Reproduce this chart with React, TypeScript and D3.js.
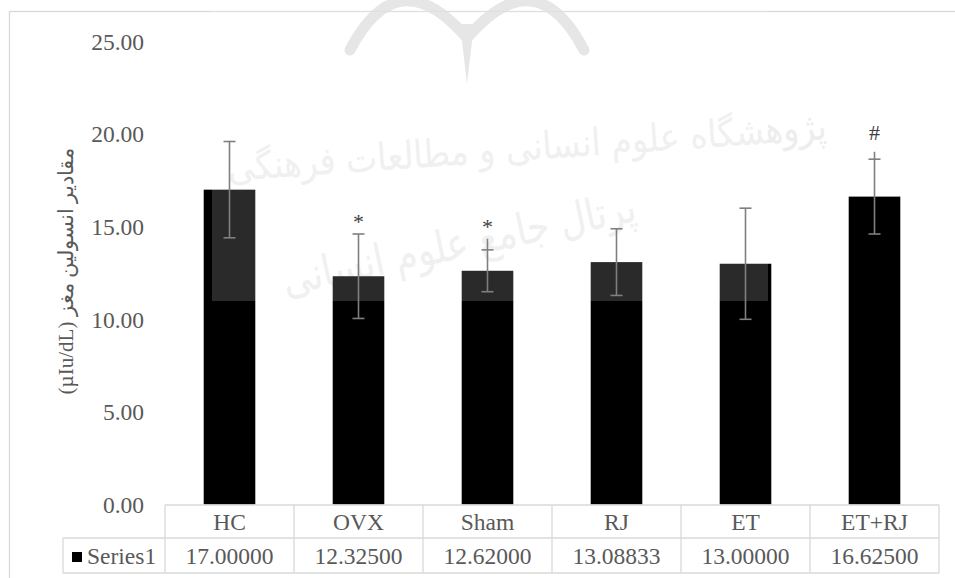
import React from "react";
import * as d3 from "d3";

const categories = ["HC", "OVX", "Sham", "RJ", "ET", "ET+RJ"];
const values = [17.0, 12.325, 12.62, 13.08833, 13.0, 16.625];
const valueLabels = ["17.00000", "12.32500", "12.62000", "13.08833", "13.00000", "16.62500"];
const errors = [2.6, 2.28, 1.13, 1.8, 3.0, 2.02];
const errStemExtra = [0, 0, 0.6, 0, 0, 0.4];
const marks = ["", "*", "*", "", "", "#"];
const yTicks = [0, 5, 10, 15, 20, 25];
const seriesName = "Series1";
const yTitle = "(µIu/dL) مقادیر انسولین مغز";
const watermark1 = "پژوهشگاه علوم انسانی و مطالعات فرهنگی";
const watermark2 = "پرتال جامع علوم انسانی";

const W = 955;
const H = 578;
const FONT = "'Liberation Serif', 'Times New Roman', serif";
const TEXT = "#595959";
const GRID = "#d9d9d9";
const WM = "#ededed";

export default function App() {
  const x = d3.scaleBand<string>().domain(categories).range([165, 939]).padding(0);
  const y = d3.scaleLinear().domain([0, 25]).range([504.5, 41.5]);
  const bw = x.bandwidth() * 0.4;
  const cx = (c: string) => (x(c) as number) + x.bandwidth() / 2;
  const tableTop = y(0) + 0.5;
  const rowMid = 538;
  const tableBottom = 573;
  const legendLeft = 63;
  const right = 939;

  return (
    <div style={{ position: "fixed", left: 0, top: 0, width: W, height: H, background: "#fff" }}>
      <svg width={W} height={H} style={{ display: "block", fontFamily: FONT }}>
        <rect x={0} y={0} width={W} height={H} fill="#fff" />

        {/* watermark behind */}
        <g stroke="#e2e2e2" fill="none" strokeLinecap="round">
          <path d="M350 50 Q398 -42 467 38" strokeWidth={11} />
          <path d="M467 38 Q536 -42 584 50" strokeWidth={11} />
        </g>
        <path d="M460 24 L474 24 L467 84 Z" fill="#e2e2e2" />
        <text
          x={528}
          y={160}
          fill={WM}
          fontSize={38}
          fontFamily="'DejaVu Sans', sans-serif"
          textAnchor="middle"
          textLength={600}
          lengthAdjust="spacingAndGlyphs"
          transform="rotate(-4 528 160)"
        >
          {watermark1}
        </text>
        <text
          x={462}
          y={258}
          fill={WM}
          fontSize={44}
          fontFamily="'DejaVu Sans', sans-serif"
          textAnchor="middle"
          textLength={360}
          lengthAdjust="spacingAndGlyphs"
          transform="rotate(-12 462 258)"
        >
          {watermark2}
        </text>

        {/* chart border */}
        <rect x={9.5} y={11.5} width={1000} height={700} fill="none" stroke={GRID} strokeWidth={1.3} />

        {/* y tick labels */}
        {yTicks.map((t) => (
          <text key={t} x={144} y={y(t)} dy="0.35em" textAnchor="end" fontSize={23.5} fill={TEXT}>
            {d3.format(".2f")(t)}
          </text>
        ))}

        {/* y title */}
        <text
          x={0}
          y={0}
          transform={`translate(73, 271) rotate(-90)`}
          textAnchor="middle"
          fontSize={21}
          fill={TEXT}
          textLength={247}
          lengthAdjust="spacingAndGlyphs"
        >
          {yTitle}
        </text>

        {/* bars */}
        {categories.map((c, i) => (
          <rect key={c} x={cx(c) - bw / 2} y={y(values[i])} width={bw} height={y(0) - y(values[i])} fill="#000" />
        ))}

        {/* watermark overlay */}
        <rect x={212} y={0} width={556} height={301} fill="#fff" opacity={0.165} />

        {/* error bars */}
        {categories.map((c, i) => {
          const hi = values[i] + errors[i];
          const lo = values[i] - errors[i];
          const top = hi + errStemExtra[i];
          const xc = cx(c);
          return (
            <g key={c} stroke="#7f7f7f" strokeWidth={1.6}>
              <line x1={xc} x2={xc} y1={y(top)} y2={y(lo)} />
              <line x1={xc - 6} x2={xc + 6} y1={y(hi)} y2={y(hi)} />
              <line x1={xc - 6} x2={xc + 6} y1={y(lo)} y2={y(lo)} />
            </g>
          );
        })}

        {/* significance marks */}
        {categories.map((c, i) =>
          marks[i] ? (
            <text
              key={c}
              x={cx(c)}
              y={y(values[i] + errors[i] + errStemExtra[i]) - 19}
              dy={marks[i] === "*" ? "0.65em" : "0.35em"}
              textAnchor="middle"
              fontSize={22}
              fill="#404040"
            >
              {marks[i]}
            </text>
          ) : null
        )}

        {/* data table */}
        <g stroke={GRID} strokeWidth={1.3} fill="none">
          <line x1={165} x2={right} y1={tableTop} y2={tableTop} />
          <line x1={legendLeft} x2={right} y1={rowMid} y2={rowMid} />
          <line x1={legendLeft} x2={right} y1={tableBottom} y2={tableBottom} />
          <line x1={legendLeft} x2={legendLeft} y1={rowMid} y2={tableBottom} />
          {categories.map((c) => (
            <line key={c} x1={x(c) as number} x2={x(c) as number} y1={tableTop} y2={tableBottom} />
          ))}
          <line x1={right} x2={right} y1={tableTop} y2={tableBottom} />
        </g>
        {categories.map((c) => (
          <text key={c} x={cx(c)} y={529.5} textAnchor="middle" fontSize={23.5} fill={TEXT}>
            {c}
          </text>
        ))}
        {categories.map((c, i) => (
          <text key={c} x={cx(c)} y={564} textAnchor="middle" fontSize={23.5} fill={TEXT}>
            {valueLabels[i]}
          </text>
        ))}
        <rect x={72} y={552} width={10} height={10} fill="#000" />
        <text x={87} y={564} fontSize={23.5} fill={TEXT}>
          {seriesName}
        </text>
      </svg>
    </div>
  );
}
